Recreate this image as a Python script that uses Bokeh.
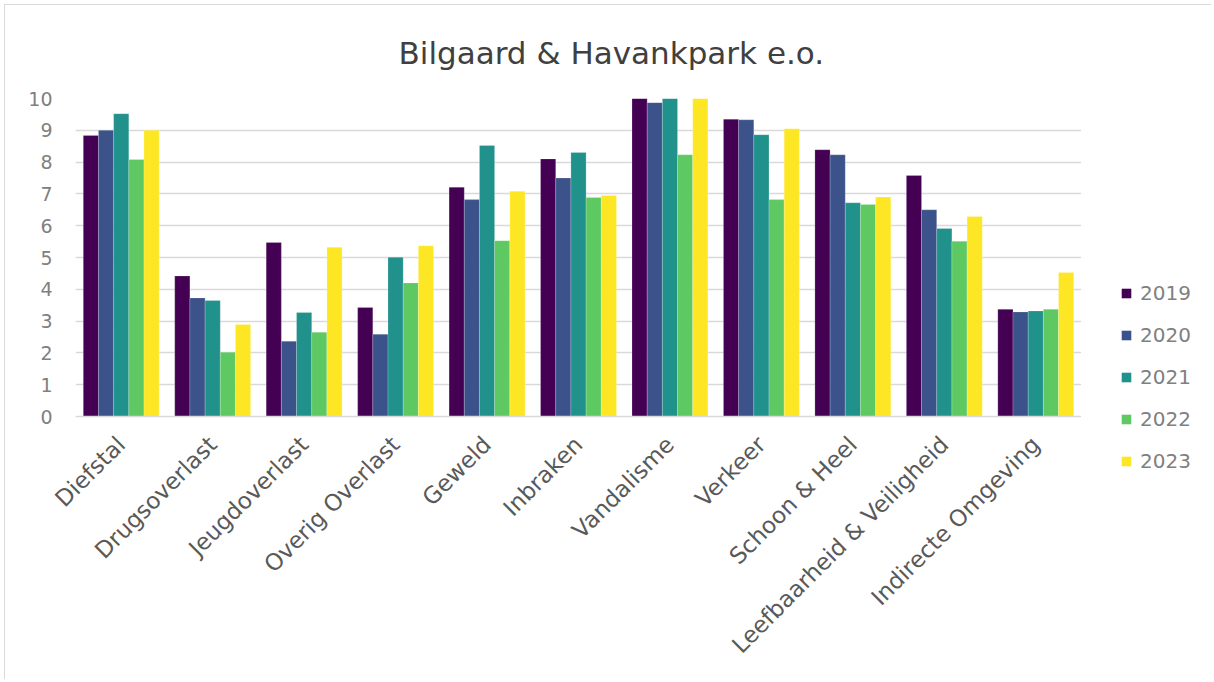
import math
from bokeh.plotting import figure
from bokeh.layouts import row, column
from bokeh.models import ColumnDataSource, Range1d, Legend, LegendItem, FactorRange
from bokeh.transform import dodge
from bokeh.embed import file_html
from bokeh.resources import INLINE

categories = ["Diefstal", "Drugsoverlast", "Jeugdoverlast", "Overig Overlast", "Geweld",
              "Inbraken", "Vandalisme", "Verkeer", "Schoon & Heel",
              "Leefbaarheid & Veiligheid", "Indirecte Omgeving"]
years = ["2019", "2020", "2021", "2022", "2023"]
v2019 = [8.84, 4.42, 5.47, 3.43, 7.21, 8.10, 10.0, 9.35, 8.39, 7.58, 3.37]
v2020 = [9.00, 3.73, 2.37, 2.59, 6.82, 7.50, 9.87, 9.33, 8.23, 6.50, 3.29]
v2021 = [9.52, 3.65, 3.27, 5.01, 8.52, 8.30, 10.0, 8.86, 6.72, 5.91, 3.32]
v2022 = [8.08, 2.02, 2.65, 4.20, 5.53, 6.89, 8.23, 6.82, 6.67, 5.51, 3.37]
v2023 = [9.00, 2.89, 5.32, 5.37, 7.08, 6.95, 10.0, 9.05, 6.90, 6.29, 4.53]
colors = ["#440154", "#3b528b", "#21918c", "#5ec962", "#fde725"]

src = ColumnDataSource(data=dict(cat=categories, y2019=v2019, y2020=v2020,
                                 y2021=v2021, y2022=v2022, y2023=v2023))

p = figure(x_range=FactorRange(*categories, range_padding=0), y_range=Range1d(0, 10),
           width=1076, height=674, output_backend="svg", toolbar_location=None,
           min_border_left=70, min_border_right=0, min_border_top=92, min_border_bottom=263)

p.title.text = "Bilgaard & Havankpark e.o."
p.title.align = "left"
p.title.offset = 323
p.title.text_font = "DejaVu Sans"
p.title.text_font_size = "31px"
p.title.text_font_style = "normal"
p.title.text_color = "#404040"
p.title.standoff = 55

w = 0.166
offsets = [-2 * w, -w, 0, w, 2 * w]
for yr, off, col in zip(years, offsets, colors):
    p.vbar(x=dodge("cat", off, range=p.x_range), top="y" + yr, width=w, source=src,
           fill_color=col, line_color="white", line_width=0.4, line_alpha=0.5)

p.outline_line_color = None
p.xgrid.grid_line_color = None
p.ygrid.grid_line_color = "#d9d9d9"
p.ygrid.grid_line_width = 1.5
p.yaxis.ticker = list(range(0, 11))
p.yaxis.axis_line_color = None
p.yaxis.major_tick_line_color = None
p.yaxis.minor_tick_line_color = None
p.yaxis.major_label_standoff = 17
p.yaxis.major_label_text_font = "DejaVu Sans"
p.yaxis.major_label_text_font_size = "19px"
p.yaxis.major_label_text_color = "#808080"

p.xaxis.axis_line_color = "#d9d9d9"
p.xaxis.axis_line_width = 1.5
p.xaxis.major_tick_line_color = None
p.xaxis.minor_tick_line_color = None
p.xaxis.major_label_orientation = math.pi / 4
p.xaxis.major_label_standoff = 18
p.xaxis.major_label_text_font = "DejaVu Sans"
p.xaxis.major_label_text_font_size = "23px"
p.xaxis.major_label_text_color = "#595959"

# legend panel as a separate small figure
lg = figure(width=130, height=674, output_backend="svg", toolbar_location=None, title=None,
            x_range=Range1d(0, 1), y_range=Range1d(0, 1),
            min_border_left=0, min_border_right=0, min_border_top=0, min_border_bottom=0)
lg.axis.visible = False
lg.grid.visible = False
lg.outline_line_color = None
hidden = ColumnDataSource(data=dict(x=[-5.0], top=[0.0]))
items = []
for yr, col in zip(years, colors):
    r = lg.vbar(x="x", top="top", width=0.1, source=hidden, fill_color=col, line_color=None)
    items.append(LegendItem(label=yr, renderers=[r]))
legend = Legend(items=items, location=(39, 206), orientation="vertical",
                glyph_width=12, glyph_height=12, label_height=20, spacing=18,
                label_text_font="DejaVu Sans", label_text_font_size="20px",
                label_text_color="#808080", border_line_color=None,
                background_fill_alpha=0, padding=0, margin=0, label_standoff=8)
lg.add_layout(legend, "center")

layout = row(p, column(lg))
layout.styles = {"border-left": "1.5px solid #d9d9d9", "border-top": "1.5px solid #d9d9d9",
                 "margin-left": "4px", "margin-top": "4px"}

open("out.html", "w").write(file_html(layout, INLINE))
